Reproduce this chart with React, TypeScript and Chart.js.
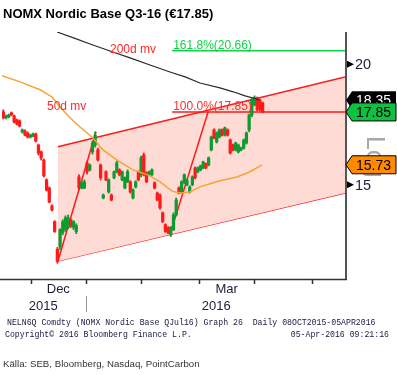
import React, { useEffect, useRef } from 'react';
import { Chart, registerables } from 'chart.js';

Chart.register(...registerables);

const TITLE = 'NOMX Nordic Base Q3-16 (€17.85)';
const FOOTER1 = 'NELN6Q Comdty (NOMX Nordic Base QJul16) Graph 26  Daily 08OCT2015-05APR2016';
const FOOTER2L = 'Copyright\u00A9 2016 Bloomberg Finance L.P.';
const FOOTER2R = '05-Apr-2016 09:21:16';
const SOURCE = 'Källa: SEB, Bloomberg, Nasdaq, PointCarbon';

// Daily candles (trading-day slots 0..96)
const openP = [17.85, 17.60, 17.64, 17.81, 17.68, 17.51, 17.47, 17.02, 17.06, 16.97, 16.81, 16.85, 16.93, 16.49, 16.22, 15.91, 15.17, 14.88, 14.26, 13.73, 12.85, 12.94, 13.38, 13.47, 13.54, 13.79, 13.54, 13.41, 15.28, 14.88, 14.88, 15.80, 15.54, 16.22, 16.49, 16.30, 15.72, 14.53, 15.47, 14.74, 14.63, 15.25, 15.47, 15.54, 15.17, 14.88, 15.10, 15.10, 14.53, 14.92, 15.47, 15.36, 16.10, 15.43, 15.36, 15.36, 15.07, 14.70, 14.63, 14.02, 13.63, 13.54, 13.31, 13.47, 13.95, 14.88, 14.74, 15.07, 15.00, 14.74, 15.00, 15.61, 15.47, 15.54, 15.61, 15.76, 15.72, 16.30, 17.10, 16.61, 16.81, 17.10, 16.89, 17.10, 16.69, 16.49, 16.30, 16.22, 16.30, 16.37, 16.57, 17.10, 17.72, 18.15, 18.46, 18.37, 18.24];
const highP = [17.94, 17.72, 17.76, 17.85, 17.72, 17.55, 17.51, 17.14, 17.10, 17.02, 16.93, 16.97, 16.97, 16.53, 16.26, 15.95, 15.21, 14.92, 14.29, 13.76, 12.91, 13.50, 13.79, 13.92, 13.95, 13.82, 13.76, 13.66, 15.36, 15.14, 15.17, 15.87, 15.76, 16.65, 17.02, 16.37, 15.76, 14.67, 15.50, 15.21, 14.67, 15.50, 15.87, 15.58, 15.50, 15.28, 15.54, 15.14, 14.85, 15.14, 15.50, 16.06, 16.18, 15.47, 15.50, 15.58, 15.10, 14.74, 14.67, 14.05, 13.66, 13.57, 13.57, 14.02, 14.53, 14.92, 15.14, 15.39, 15.21, 14.96, 15.32, 15.65, 15.65, 15.72, 15.87, 15.80, 16.03, 16.85, 17.14, 17.02, 17.14, 17.14, 17.22, 17.14, 16.73, 16.53, 16.61, 16.53, 16.41, 16.73, 17.02, 17.76, 18.46, 18.55, 18.50, 18.41, 18.28];
const lowP = [17.55, 17.55, 17.60, 17.68, 17.38, 17.30, 17.22, 16.97, 16.85, 16.77, 16.77, 16.81, 16.61, 16.10, 15.91, 15.28, 14.77, 14.36, 14.09, 13.38, 12.43, 12.85, 13.31, 13.41, 13.50, 13.54, 13.47, 13.34, 14.81, 14.85, 14.85, 15.39, 15.50, 16.14, 16.41, 15.87, 15.17, 14.50, 15.14, 14.70, 14.43, 15.21, 15.43, 15.32, 15.14, 14.85, 15.07, 14.70, 14.50, 14.88, 15.14, 15.28, 15.32, 15.07, 15.32, 15.32, 14.85, 14.43, 14.15, 13.70, 13.38, 13.34, 13.25, 13.44, 13.92, 14.67, 14.70, 15.03, 14.96, 14.70, 14.96, 15.21, 15.43, 15.50, 15.58, 15.58, 15.69, 16.26, 16.73, 16.57, 16.77, 16.85, 16.85, 16.85, 16.14, 16.26, 16.26, 16.18, 16.26, 16.33, 16.53, 17.02, 17.64, 18.11, 17.89, 17.89, 17.81];
const closeP = [17.60, 17.68, 17.72, 17.72, 17.43, 17.34, 17.26, 17.10, 16.89, 16.81, 16.89, 16.93, 16.65, 16.18, 15.99, 15.32, 14.81, 14.39, 14.12, 13.41, 12.49, 13.47, 13.73, 13.86, 13.86, 13.60, 13.73, 13.60, 14.88, 15.07, 15.10, 15.47, 15.72, 16.57, 16.89, 15.91, 15.25, 14.63, 15.17, 15.17, 14.46, 15.47, 15.80, 15.36, 15.47, 15.25, 15.47, 14.74, 14.81, 15.10, 15.17, 15.99, 15.36, 15.10, 15.47, 15.54, 14.88, 14.46, 14.19, 13.73, 13.41, 13.38, 13.54, 13.95, 14.46, 14.70, 15.10, 15.36, 15.17, 14.92, 15.28, 15.25, 15.61, 15.69, 15.84, 15.61, 15.99, 16.81, 16.77, 16.97, 17.10, 16.89, 17.18, 16.89, 16.18, 16.30, 16.57, 16.49, 16.37, 16.69, 16.97, 17.72, 18.37, 18.46, 17.94, 17.94, 17.85];

// Moving averages (slot, value)
const ma50Slot = [-0.5, 6.2, 13.6, 18.0, 21.0, 24.7, 28.4, 33.2, 36.9, 42.1, 45.1, 48.0, 52.5, 54.3, 58.0, 62.5, 65.4, 69.1, 72.8, 76.5, 80.2, 86.5, 91.3, 95.8];
const ma50Val = [19.46, 19.18, 18.82, 18.50, 18.06, 17.60, 17.22, 16.77, 16.30, 15.91, 15.72, 15.54, 15.39, 15.32, 15.10, 14.77, 14.70, 14.74, 14.92, 15.03, 15.14, 15.28, 15.47, 15.73];
const ma200Slot = [19.9, 26.5, 32.1, 39.5, 46.9, 54.3, 61.7, 67.3, 72.8, 80.2, 85.1, 89.5, 93.9, 94.7];
const ma200Val = [21.61, 21.28, 21.00, 20.65, 20.31, 19.97, 19.64, 19.41, 19.13, 18.91, 18.73, 18.55, 18.41, 18.35];

// Trend channel and Fibonacci projection
const channelSlot = [20.2, 126.5];
const channelUpper = [16.42, 19.41];
const channelLower = [12.49, 14.70];
const trendASlot = [20.2, 34.3];
const trendAVal = [12.49, 17.02];
const trendBSlot = [61.7, 75.8];
const trendBVal = [13.31, 17.85];
const fibPct = ['161.8%', '100.0%'];
const fibVal = [20.66, 17.85];
const fibStartSlot = 62.5;

// Axis
const X_MIN = -0.5;
const X_MAX = 126.5;
const Y_MIN = 11.97;
const Y_MAX = 21.61;
const yTicks = [15, 20];
const monthTickSlots = [10.1, 30.6, 51.1, 72.35, 92.95, 114.2];
const monthLabels = ['Dec', 'Mar'];
const monthLabelIdx = [0, 3];
const yearLabels = ['2015', '2016'];
const yearBoundaryIdx = 1;

const RED = '#ff1a1a';
const GREEN_C = '#0f9a32';
const FONT = '"Liberation Sans", Arial, sans-serif';

const decor = {
  id: 'decor',
  afterDraw(chart: any) {
    const { ctx, chartArea: a, scales } = chart;
    const xs = scales.x;
    const ys = scales.y;
    const px = (v: number) => xs.getPixelForValue(v);
    const py = (v: number) => ys.getPixelForValue(v);
    ctx.save();

    // title
    ctx.fillStyle = '#000';
    ctx.font = `bold 13px ${FONT}`;
    ctx.textAlign = 'left';
    ctx.textBaseline = 'alphabetic';
    ctx.fillText(TITLE, 3, 17.5);

    // annotation texts
    ctx.font = `12px ${FONT}`;
    ctx.fillStyle = '#ff2a2a';
    ctx.fillText('200d mv', 110, 53);
    ctx.fillText('50d mv', 47, 110);
    fibVal.forEach((v, i) => {
      ctx.fillStyle = i === 0 ? '#12d048' : '#ff2a2a';
      ctx.fillText(`${fibPct[i]}(${v.toFixed(2)})`, px(fibStartSlot) + 1, py(v) - 2);
    });

    // axes lines
    const right = a.right + 1;
    ctx.strokeStyle = '#555';
    ctx.lineWidth = 2;
    ctx.beginPath();
    ctx.moveTo(right, a.top);
    ctx.lineTo(right, a.bottom + 1);
    ctx.stroke();
    ctx.strokeStyle = '#333';
    ctx.lineWidth = 1.5;
    ctx.beginPath();
    ctx.moveTo(0, a.bottom + 0.5);
    ctx.lineTo(right + 1, a.bottom + 0.5);
    ctx.stroke();
    // month ticks
    ctx.lineWidth = 1.5;
    monthTickSlots.forEach((s) => {
      const x = Math.round(px(s)) + 0.5;
      ctx.beginPath();
      ctx.moveTo(x, a.bottom);
      ctx.lineTo(x, a.bottom + 5);
      ctx.stroke();
    });
    // year separator
    ctx.strokeStyle = '#999';
    ctx.lineWidth = 1;
    const yb = Math.round(px(monthTickSlots[yearBoundaryIdx])) + 0.5;
    ctx.beginPath();
    ctx.moveTo(yb, a.bottom + 17);
    ctx.lineTo(yb, a.bottom + 33);
    ctx.stroke();

    // month / year labels
    ctx.fillStyle = '#1e1e3a';
    ctx.font = `13px ${FONT}`;
    ctx.textAlign = 'center';
    monthLabels.forEach((m, i) => {
      const k = monthLabelIdx[i];
      const cx = (px(monthTickSlots[k]) + px(monthTickSlots[k + 1])) / 2;
      ctx.fillText(m, cx, a.bottom + 14);
    });
    const yl = [(a.left - 2 + yb) / 2, (yb + right) / 2];
    yearLabels.forEach((y, i) => ctx.fillText(y, yl[i], a.bottom + 31));

    // right y ticks
    ctx.textAlign = 'left';
    ctx.textBaseline = 'middle';
    ctx.font = `14.5px ${FONT}`;
    yTicks.forEach((t) => {
      const y = py(t);
      ctx.fillStyle = '#000';
      ctx.beginPath();
      ctx.moveTo(right + 1, y - 3.5);
      ctx.lineTo(right + 8, y);
      ctx.lineTo(right + 1, y + 3.5);
      ctx.closePath();
      ctx.fill();
      ctx.fillStyle = '#1e1e3a';
      ctx.fillText(String(t), right + 9, y + 1);
    });

    // "Log" marker
    ctx.save();
    ctx.translate(367, 136);
    ctx.rotate(Math.PI / 2);
    ctx.fillStyle = '#a8a8a8';
    ctx.font = `25px ${FONT}`;
    ctx.textAlign = 'left';
    ctx.textBaseline = 'alphabetic';
    ctx.fillText('Log', 0, 0);
    ctx.restore();

    // value tags
    const tag = (v: number, bg: string, fg: string, border: boolean) => {
      const cy = py(v);
      const x0 = right;
      const x1 = 396;
      ctx.beginPath();
      ctx.moveTo(x0, cy);
      ctx.lineTo(x0 + 6, cy - 9);
      ctx.lineTo(x1, cy - 9);
      ctx.lineTo(x1, cy + 9);
      ctx.lineTo(x0 + 6, cy + 9);
      ctx.closePath();
      ctx.fillStyle = bg;
      ctx.fill();
      if (border) {
        ctx.strokeStyle = '#000';
        ctx.lineWidth = 1;
        ctx.stroke();
      }
      ctx.fillStyle = fg;
      ctx.font = `14px ${FONT}`;
      ctx.textAlign = 'left';
      ctx.textBaseline = 'middle';
      ctx.fillText(v.toFixed(2), x0 + 10, cy + 1);
    };
    tag(ma200Val[ma200Val.length - 1], '#000', '#fff', false);
    tag(closeP[closeP.length - 1], '#10c040', '#000', true);
    tag(ma50Val[ma50Val.length - 1], '#ff8a00', '#000', true);

    // footer
    ctx.fillStyle = '#202048';
    ctx.font = '8.2px "Liberation Mono", "DejaVu Sans Mono", monospace';
    ctx.textBaseline = 'alphabetic';
    ctx.textAlign = 'left';
    ctx.fillText(FOOTER1, 7, 325);
    ctx.fillText(FOOTER2L, 5, 337);
    ctx.textAlign = 'right';
    ctx.fillText(FOOTER2R, 389, 337);

    ctx.textAlign = 'left';
    ctx.fillStyle = '#333';
    ctx.font = `9.7px ${FONT}`;
    ctx.fillText(SOURCE, 3, 366.5);

    ctx.restore();
  },
};

export default function App() {
  const ref = useRef<HTMLCanvasElement | null>(null);
  useEffect(() => {
    if (!ref.current) return;
    const idx = openP.map((_, i) => i);
    const candleColor = idx.map((i) => (closeP[i] >= openP[i] ? GREEN_C : RED));
    const line = (xsArr: number[], vArr: number[], color: string, width: number, order: number, extra: any = {}) => ({
      type: 'line',
      data: xsArr.map((x, i) => ({ x, y: vArr[i] })),
      borderColor: color,
      borderWidth: width,
      pointRadius: 0,
      tension: 0,
      fill: false,
      order,
      ...extra,
    });
    const chart = new Chart(ref.current, {
      type: 'bar',
      data: {
        datasets: [
          line(channelSlot, channelUpper, RED, 1.5, 5, { fill: '+1', backgroundColor: '#fedbd5' }),
          line(channelSlot, channelLower, RED, 1.3, 5),
          line(trendASlot, trendAVal, RED, 1.5, 3),
          line(trendBSlot, trendBVal, RED, 1.5, 3),
          line([fibStartSlot, X_MAX], [fibVal[0], fibVal[0]], '#12d048', 1.5, 3),
          line([fibStartSlot, X_MAX], [fibVal[1], fibVal[1]], RED, 1.5, 3),
          line(ma200Slot, ma200Val, '#2a2a2a', 1.2, 1),
          line(ma50Slot, ma50Val, '#f7a238', 1.5, 1),
          {
            type: 'bar',
            data: idx.map((i) => ({ x: i, y: [lowP[i], highP[i]] })),
            backgroundColor: candleColor,
            barThickness: 1.2,
            grouped: false,
            order: 2,
          },
          {
            type: 'bar',
            data: idx.map((i) => ({ x: i, y: [openP[i], closeP[i]] })),
            backgroundColor: candleColor,
            barThickness: 2.6,
            minBarLength: 1.5,
            grouped: false,
            order: 2,
          },
        ] as any,
      },
      options: {
        responsive: false,
        animation: false,
        events: [],
        layout: { padding: { left: 2, right: 52, top: 32, bottom: 96 } },
        plugins: { legend: { display: false }, tooltip: { enabled: false } },
        scales: {
          x: { type: 'linear', min: X_MIN, max: X_MAX, display: false, offset: false },
          y: { type: 'logarithmic', min: Y_MIN, max: Y_MAX, display: false },
        },
      } as any,
      plugins: [decor],
    });
    return () => chart.destroy();
  }, []);
  return (
    <div style={{ position: 'absolute', left: 0, top: 0, width: 397, height: 375, background: '#fff', overflow: 'hidden' }}>
      <canvas ref={ref} width={397} height={375} style={{ width: 397, height: 375, display: 'block' }} />
    </div>
  );
}
